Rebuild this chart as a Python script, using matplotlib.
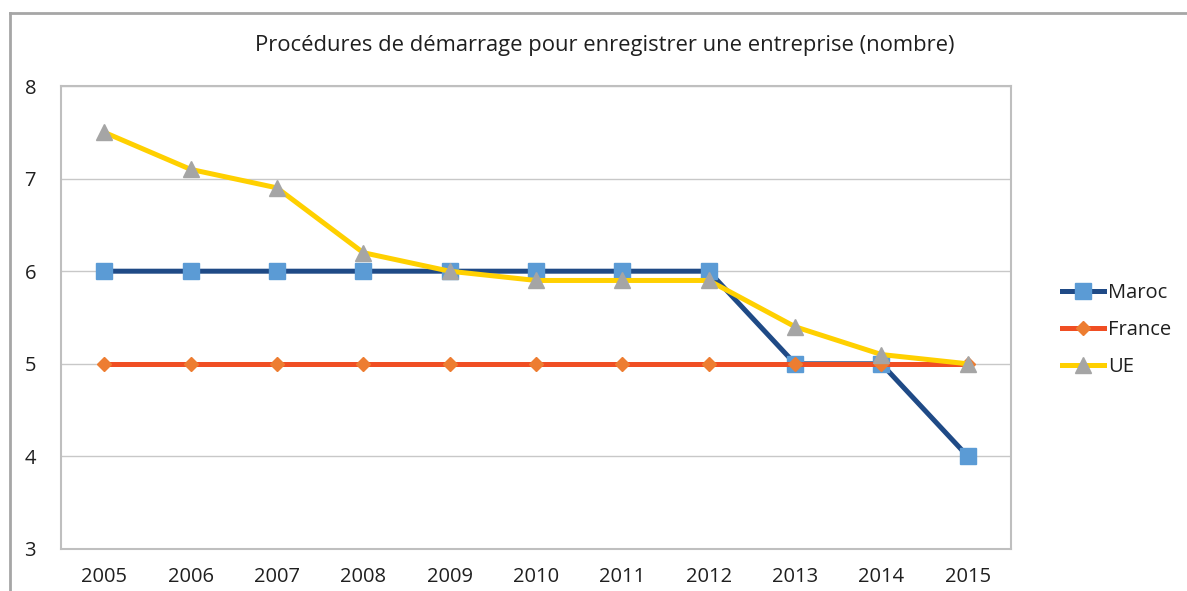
import matplotlib

matplotlib.use("Agg")
import matplotlib.pyplot as plt
from matplotlib.lines import Line2D

plt.rcParams["font.family"] = ["Open Sans", "DejaVu Sans"]

years = ["2005", "2006", "2007", "2008", "2009", "2010", "2011", "2012", "2013", "2014", "2015"]
maroc = [6, 6, 6, 6, 6, 6, 6, 6, 5, 5, 4]
france = [5, 5, 5, 5, 5, 5, 5, 5, 5, 5, 5]
ue = [7.5, 7.1, 6.9, 6.2, 6.0, 5.9, 5.9, 5.9, 5.4, 5.1, 5.0]

W, H = 1187, 591
fig = plt.figure(figsize=(W / 100, H / 100), dpi=100)
ax = fig.add_axes([61 / W, 1 - 549 / H, (1011 - 61) / W, (549 - 86) / H])

x = list(range(len(years)))
ax.plot(x, maroc, color="#1F4A86", lw=3.6, marker="s", ms=11,
        mfc="#5B9BD5", mec="#5B9BD5", label="Maroc", zorder=3)
ax.plot(x, france, color="#F04E23", lw=3.6, marker="D", ms=7,
        mfc="#ED7D31", mec="#ED7D31", label="France", zorder=4)
ax.plot(x, ue, color="#FFD000", lw=3.6, marker="^", ms=12,
        mfc="#A5A5A5", mec="#A5A5A5", label="UE", zorder=5)

ax.set_xlim(-0.5, len(years) - 0.5)
ax.set_ylim(3, 8)
ax.set_xticks(x)
ax.set_xticklabels(years)
ax.set_yticks([3, 4, 5, 6, 7, 8])
ax.tick_params(length=0, labelsize=14.5, colors="#1F1F1F")
ax.tick_params(axis="y", pad=18)
ax.tick_params(axis="x", pad=13)
ax.grid(axis="y", color="#C8C8C8", lw=1)
ax.set_axisbelow(True)
for s in ax.spines.values():
    s.set_color("#BFBFBF")
    s.set_linewidth(1.5)

fig.text(605 / W, 1 - 46 / H, "Procédures de démarrage pour enregistrer une entreprise (nombre)",
         ha="center", va="center", fontsize=15.8, color="#1F1F1F")

fig.legend(loc="center left", bbox_to_anchor=(1044 / W, 1 - 330 / H), frameon=False,
           fontsize=14.5, handlelength=2.1, labelspacing=0.85, handletextpad=0.2,
           labelcolor="#1F1F1F")

# outer chart frame (cropped at right and bottom)
fig.add_artist(Line2D([10 / W, 10 / W], [0, 1 - 13 / H], transform=fig.transFigure,
                      color="#A6A6A6", lw=2))
fig.add_artist(Line2D([10 / W, 1], [1 - 13 / H, 1 - 13 / H], transform=fig.transFigure,
                      color="#A6A6A6", lw=2))

fig.savefig("out.png", dpi=100)
